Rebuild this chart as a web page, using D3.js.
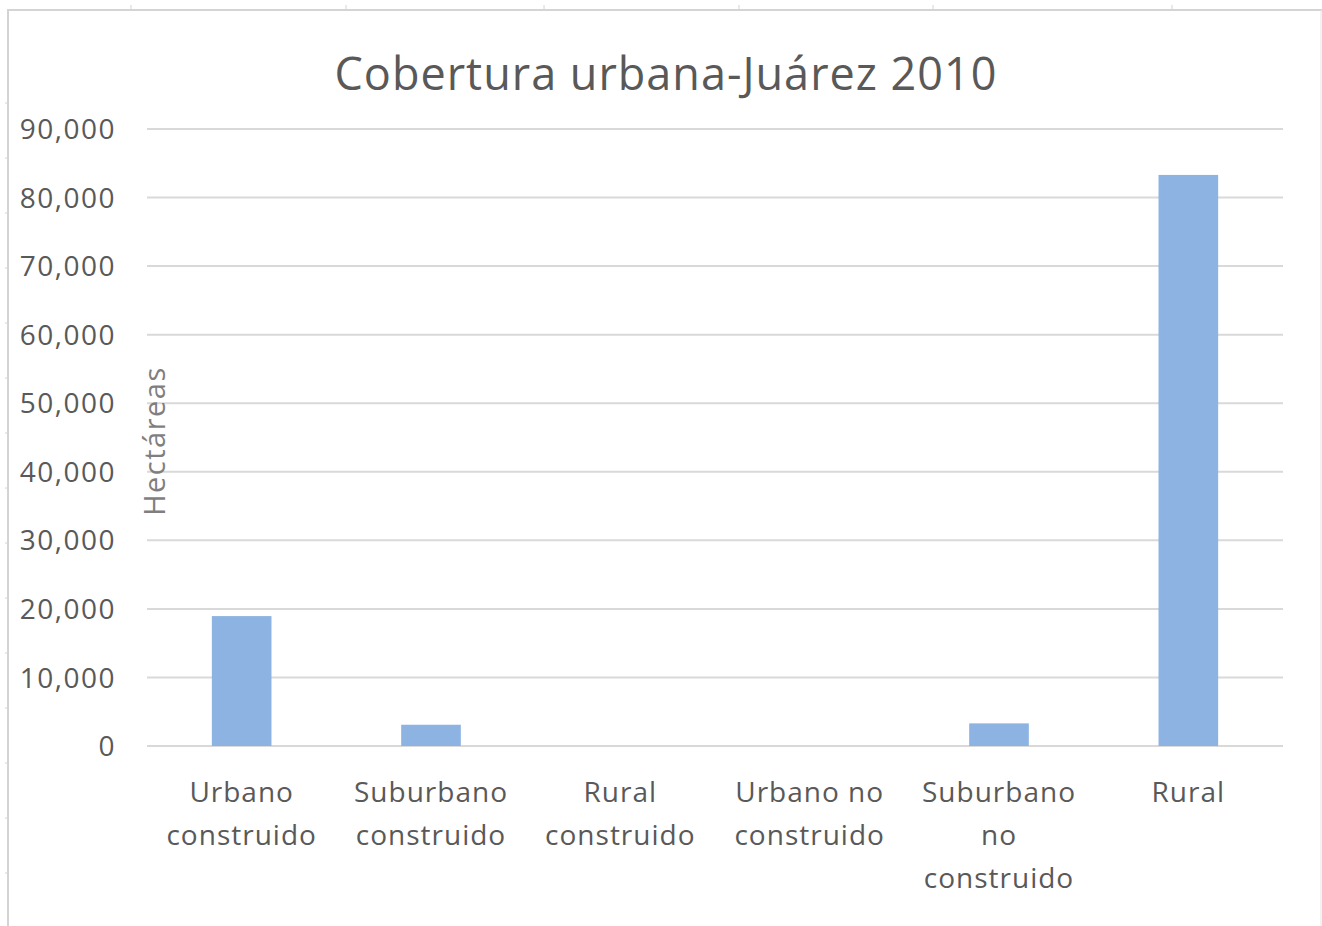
<!DOCTYPE html>
<html lang="es">
<head>
  <meta charset="utf-8">
  <title>Cobertura urbana-Juárez 2010</title>
  <script src="https://d3js.org/d3.v7.min.js"></script>
  <style>
    body { margin: 0; background: #fff; }
    text { font-family: "Open Sans", "Noto Sans", sans-serif; }
  </style>
</head>
<body>
<script>
  // data
  var categories = ["Urbano construido", "Suburbano construido", "Rural construido",
                    "Urbano no construido", "Suburbano no construido", "Rural"];
  var labelLines = [["Urbano", "construido"], ["Suburbano", "construido"], ["Rural", "construido"],
                    ["Urbano no", "construido"], ["Suburbano", "no", "construido"], ["Rural"]];
  var hectareas = [18950, 3100, 0, 0, 3300, 83300];
  var yTicks = [0, 10000, 20000, 30000, 40000, 50000, 60000, 70000, 80000, 90000];

  var width = 1322, height = 926;
  var svg = d3.select("body").append("svg")
      .attr("width", width)
      .attr("height", height);

  // page frame with faint ruler marks
  svg.append("path")
      .attr("d", "M8,926V10H1322")
      .attr("fill", "none")
      .attr("stroke", "#d4d4d4")
      .attr("stroke-width", 2);
  [131, 346, 544, 739, 933, 1172].forEach(function(x) {
    svg.append("line").attr("x1", x).attr("x2", x).attr("y1", 5).attr("y2", 10)
        .attr("stroke", "#d4d4d4");
  });
  d3.range(103, 926, 55).forEach(function(y) {
    svg.append("line").attr("x1", 5).attr("x2", 8).attr("y1", y).attr("y2", y)
        .attr("stroke", "#d4d4d4");
  });
  svg.append("line").attr("x1", 1321).attr("x2", 1321).attr("y1", 10).attr("y2", 926)
      .attr("stroke", "#e6e6e6");

  var x = d3.scaleBand().domain(categories).range([147, 1283]);
  var y = d3.scaleLinear().domain([0, 90000]).range([746, 129]);

  // gridlines
  svg.append("g").selectAll("line")
    .data(yTicks)
    .enter().append("line")
      .attr("x1", 147).attr("x2", 1283)
      .attr("y1", function(d) { return y(d); })
      .attr("y2", function(d) { return y(d); })
      .attr("stroke", "#d9d9d9")
      .attr("stroke-width", 2);

  // y tick labels
  svg.append("g").selectAll("text")
    .data(yTicks)
    .enter().append("text")
      .attr("x", 116)
      .attr("y", function(d) { return y(d); })
      .attr("dy", "0.36em")
      .attr("text-anchor", "end")
      .attr("font-size", 28)
      .attr("letter-spacing", 1.5)
      .attr("fill", "#595959")
      .text(d3.format(","));

  // bars
  var barW = x.bandwidth() * 0.315;
  svg.append("g").selectAll("rect")
    .data(hectareas)
    .enter().append("rect")
      .attr("x", function(d, i) { return x(categories[i]) + x.bandwidth() / 2 - barW / 2; })
      .attr("y", function(d) { return y(d); })
      .attr("width", barW)
      .attr("height", function(d) { return y(0) - y(d); })
      .attr("fill", "#8db3e2");

  // category labels
  var lab = svg.append("g").selectAll("text")
    .data(categories)
    .enter().append("text")
      .attr("text-anchor", "middle")
      .attr("font-size", 28)
      .attr("letter-spacing", 1)
      .attr("fill", "#595959");
  lab.each(function(d, i) {
    var t = d3.select(this);
    labelLines[i].forEach(function(line, j) {
      t.append("tspan")
        .attr("x", x(d) + x.bandwidth() / 2)
        .attr("y", 802 + j * 43)
        .text(line);
    });
  });

  // axis title
  svg.append("text")
      .attr("transform", "translate(165,441) rotate(-90)")
      .attr("text-anchor", "middle")
      .attr("font-size", 29)
      .attr("letter-spacing", 1.5)
      .attr("fill", "#7f7f7f")
      .text("Hectáreas");

  // chart title
  svg.append("text")
      .attr("x", 666)
      .attr("y", 90)
      .attr("text-anchor", "middle")
      .attr("font-size", 45)
      .attr("letter-spacing", 1)
      .attr("fill", "#595959")
      .text("Cobertura urbana-Juárez 2010");
</script>
</body>
</html>
